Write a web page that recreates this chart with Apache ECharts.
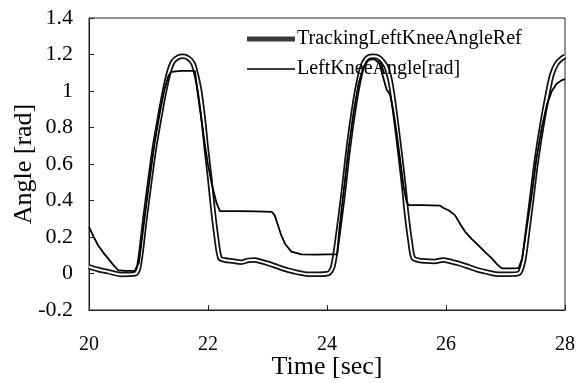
<!DOCTYPE html>
<html>
<head>
<meta charset="utf-8">
<script src="https://cdn.jsdelivr.net/npm/echarts@6/dist/echarts.min.js"></script>
<style>
html,body{margin:0;padding:0;background:#fff;}
#chart{width:579px;height:383px;}
</style>
</head>
<body>
<div id="chart"></div>
<script>
// Reference (tracking) knee angle
var refTime = [20.0, 20.15, 20.32, 20.54, 20.77, 20.84, 20.94, 21.02, 21.10, 21.19, 21.27, 21.34, 21.41, 21.50, 21.58, 21.67, 21.75, 21.81, 21.86, 21.92, 21.97, 22.03, 22.08, 22.14, 22.20, 22.28, 22.42, 22.56, 22.68, 22.78, 22.90, 23.01, 23.17, 23.34, 23.50, 23.68, 23.85, 24.02, 24.10, 24.19, 24.28, 24.36, 24.45, 24.53, 24.61, 24.69, 24.78, 24.86, 24.93, 25.00, 25.06, 25.11, 25.17, 25.23, 25.29, 25.34, 25.40, 25.45, 25.55, 25.65, 25.80, 25.95, 26.08, 26.21, 26.38, 26.54, 26.71, 26.88, 27.05, 27.22, 27.30, 27.37, 27.44, 27.52, 27.61, 27.70, 27.78, 27.86, 27.95, 28.0];
var refAngle = [0.037, 0.022, 0.01, -0.005, -0.002, 0.04, 0.30, 0.50, 0.69, 0.86, 1.0, 1.10, 1.16, 1.185, 1.19, 1.18, 1.15, 1.08, 1.0, 0.85, 0.69, 0.52, 0.36, 0.20, 0.085, 0.074, 0.068, 0.062, 0.072, 0.074, 0.065, 0.055, 0.037, 0.019, 0.006, -0.004, -0.004, 0.0, 0.04, 0.23, 0.46, 0.69, 0.90, 1.05, 1.15, 1.185, 1.19, 1.185, 1.165, 1.13, 1.06, 0.96, 0.81, 0.65, 0.48, 0.32, 0.17, 0.085, 0.072, 0.068, 0.066, 0.074, 0.066, 0.055, 0.037, 0.019, 0.006, -0.004, -0.004, 0.0, 0.065, 0.23, 0.41, 0.62, 0.81, 0.97, 1.09, 1.15, 1.18, 1.19];

// Measured knee angle
var actTime = [20.0, 20.08, 20.15, 20.25, 20.32, 20.40, 20.49, 20.60, 20.77, 20.84, 20.94, 21.02, 21.10, 21.19, 21.27, 21.33, 21.38, 21.55, 21.78, 21.83, 21.90, 21.95, 22.00, 22.07, 22.14, 22.20, 22.50, 22.80, 23.07, 23.12, 23.18, 23.23, 23.30, 23.40, 23.57, 23.80, 24.02, 24.17, 24.21, 24.28, 24.36, 24.45, 24.53, 24.61, 24.70, 24.80, 24.88, 24.94, 25.00, 25.06, 25.11, 25.17, 25.23, 25.29, 25.34, 25.37, 25.60, 25.90, 25.95, 26.05, 26.15, 26.24, 26.32, 26.43, 26.54, 26.65, 26.77, 26.86, 26.94, 27.10, 27.22, 27.28, 27.36, 27.44, 27.52, 27.61, 27.70, 27.78, 27.86, 27.95, 28.0];
var actAngle = [0.256, 0.20, 0.156, 0.11, 0.083, 0.05, 0.019, 0.014, 0.014, 0.06, 0.32, 0.52, 0.71, 0.88, 1.01, 1.08, 1.105, 1.11, 1.11, 0.98, 0.82, 0.70, 0.595, 0.48, 0.39, 0.342, 0.342, 0.340, 0.338, 0.32, 0.26, 0.21, 0.16, 0.12, 0.105, 0.103, 0.105, 0.105, 0.25, 0.45, 0.68, 0.89, 1.04, 1.13, 1.17, 1.175, 1.15, 1.08, 1.01, 0.98, 0.90, 0.77, 0.62, 0.47, 0.39, 0.375, 0.375, 0.372, 0.36, 0.345, 0.32, 0.27, 0.23, 0.19, 0.156, 0.12, 0.083, 0.05, 0.028, 0.028, 0.03, 0.08, 0.26, 0.43, 0.63, 0.80, 0.93, 1.00, 1.04, 1.06, 1.065];

var xTicks = [20, 22, 24, 26, 28];
var yTicks = [-0.2, 0, 0.2, 0.4, 0.6, 0.8, 1, 1.2, 1.4];
var seriesNames = ['TrackingLeftKneeAngleRef', 'LeftKneeAngle[rad]'];

function zip(a, b) { return a.map(function (v, i) { return [v, b[i]]; }); }
var refData = zip(refTime, refAngle);
var actData = zip(actTime, actAngle);

var FONT = '"Liberation Serif", "Times New Roman", serif';
var chart = echarts.init(document.getElementById('chart'), null, {renderer: 'canvas'});
chart.setOption({
  animation: false,
  backgroundColor: '#ffffff',
  grid: {left: 89, right: 14, top: 18, bottom: 73, containLabel: false, outerBoundsMode: 'none',
         show: true, borderColor: '#222', borderWidth: 1, backgroundColor: 'transparent'},
  legend: {
    orient: 'vertical', left: 242, top: 24, itemGap: 10,
    itemWidth: 48, itemHeight: 14, symbolKeepAspect: true,
    textStyle: {fontFamily: FONT, fontSize: 20, color: '#000', padding: [0, 0, 0, -3]},
    data: [
      {name: seriesNames[0], icon: 'path://M0,0 L48,0 L48,5 L0,5 Z', itemStyle: {color: '#3a3a3a'}},
      {name: seriesNames[1], icon: 'path://M0,0 L48,0 L48,1.6 L0,1.6 Z', itemStyle: {color: '#000'}}
    ]
  },
  xAxis: {
    type: 'value', min: xTicks[0], max: xTicks[xTicks.length - 1], interval: 2,
    name: 'Time [sec]', nameLocation: 'middle', nameGap: 44, nameMoveOverlap: false,
    nameTextStyle: {fontFamily: FONT, fontSize: 26, color: '#000'},
    axisLine: {show: true, onZero: false, lineStyle: {color: '#222', width: 1}},
    axisTick: {show: true, inside: true, length: 5, lineStyle: {color: '#222'}},
    axisLabel: {fontFamily: FONT, fontSize: 20, color: '#000', margin: 25},
    splitLine: {show: false}
  },
  yAxis: {
    type: 'value', min: yTicks[0], max: yTicks[yTicks.length - 1], interval: 0.2,
    name: 'Angle [rad]', nameLocation: 'middle', nameGap: 52, nameMoveOverlap: false,
    nameTextStyle: {fontFamily: FONT, fontSize: 26, color: '#000'},
    axisLine: {show: true, onZero: false, lineStyle: {color: '#222', width: 1}},
    axisTick: {show: true, inside: true, length: 5, lineStyle: {color: '#222'}},
    axisLabel: {fontFamily: FONT, fontSize: 22, color: '#000', margin: 16,
                formatter: function (v) { return String(Math.round(v * 10) / 10); }},
    splitLine: {show: false}
  },
  series: [
    {name: seriesNames[0], type: 'line', data: refData, showSymbol: false, symbol: 'none',
     smooth: 0.3, lineStyle: {color: '#111', width: 5.5}, z: 2},
    {name: 'refCore', type: 'line', data: refData, showSymbol: false, symbol: 'none',
     smooth: 0.3, lineStyle: {color: '#fff', width: 2}, z: 3, silent: true},
    {name: seriesNames[1], type: 'line', data: actData, showSymbol: false, symbol: 'none',
     lineStyle: {color: '#000', width: 1.8}, z: 4}
  ]
});
</script>
</body>
</html>
